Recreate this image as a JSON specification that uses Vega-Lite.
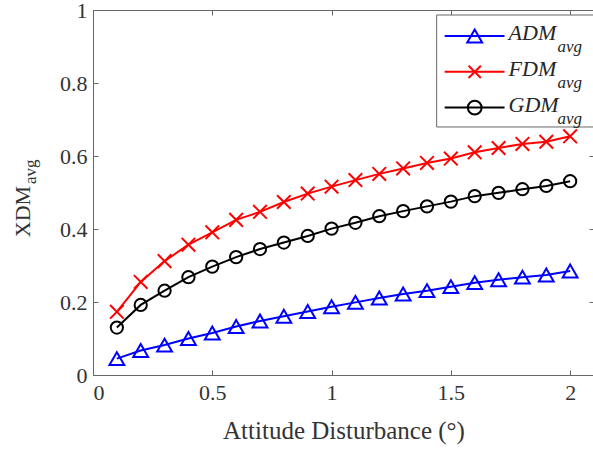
{
  "$schema": "https://vega.github.io/schema/vega-lite/v6.json",
  "width": 501,
  "height": 365,
  "autosize": "none",
  "padding": {"left": 93, "top": 10, "right": 0, "bottom": 75},
  "background": "white",
  "config": {
    "view": {"stroke": "#666666", "strokeWidth": 1},
    "font": "Liberation Serif",
    "axis": {
      "grid": false,
      "labelFont": "Liberation Serif",
      "titleFont": "Liberation Serif",
      "labelFontSize": 22,
      "labelColor": "#333333",
      "tickColor": "#666666",
      "domain": false,
      "titleFontWeight": "normal",
      "titleColor": "#333333",
      "tickSize": -5
    }
  },
  "datasets": {
    "curves": [
      {"x": 0.1, "ADM": 0.045, "FDM": 0.173, "GDM": 0.130},
      {"x": 0.2, "ADM": 0.067, "FDM": 0.255, "GDM": 0.192},
      {"x": 0.3, "ADM": 0.082, "FDM": 0.312, "GDM": 0.231},
      {"x": 0.4, "ADM": 0.100, "FDM": 0.357, "GDM": 0.268},
      {"x": 0.5, "ADM": 0.115, "FDM": 0.391, "GDM": 0.297},
      {"x": 0.6, "ADM": 0.133, "FDM": 0.425, "GDM": 0.323},
      {"x": 0.7, "ADM": 0.148, "FDM": 0.447, "GDM": 0.345},
      {"x": 0.8, "ADM": 0.161, "FDM": 0.474, "GDM": 0.363},
      {"x": 0.9, "ADM": 0.174, "FDM": 0.497, "GDM": 0.381},
      {"x": 1.0, "ADM": 0.187, "FDM": 0.516, "GDM": 0.401},
      {"x": 1.1, "ADM": 0.199, "FDM": 0.534, "GDM": 0.417},
      {"x": 1.2, "ADM": 0.211, "FDM": 0.551, "GDM": 0.435},
      {"x": 1.3, "ADM": 0.222, "FDM": 0.566, "GDM": 0.449},
      {"x": 1.4, "ADM": 0.231, "FDM": 0.581, "GDM": 0.462},
      {"x": 1.5, "ADM": 0.242, "FDM": 0.593, "GDM": 0.475},
      {"x": 1.6, "ADM": 0.253, "FDM": 0.610, "GDM": 0.490},
      {"x": 1.7, "ADM": 0.261, "FDM": 0.622, "GDM": 0.499},
      {"x": 1.8, "ADM": 0.268, "FDM": 0.633, "GDM": 0.509},
      {"x": 1.9, "ADM": 0.274, "FDM": 0.639, "GDM": 0.518},
      {"x": 2.0, "ADM": 0.285, "FDM": 0.654, "GDM": 0.531}
    ]
  },
  "resolve": {"axis": {"x": "independent", "y": "independent"}},
  "layer": [
    {
      "data": {"name": "curves"},
      "transform": [{"fold": ["ADM", "FDM", "GDM"], "as": ["series", "value"]}],
      "mark": {"type": "line", "strokeWidth": 2},
      "encoding": {
        "x": {
          "field": "x", "type": "quantitative",
          "scale": {"domain": [0, 2.1], "nice": false, "zero": false},
          "axis": {
            "orient": "bottom", "values": [0, 0.5, 1, 1.5, 2], "format": "~g",
            "title": "Attitude Disturbance (°)", "titleFontSize": 25,
            "titleY": 63, "titleBaseline": "alphabetic", "labelPadding": 12
          }
        },
        "y": {
          "field": "value", "type": "quantitative",
          "scale": {"domain": [0, 1], "nice": false},
          "axis": {
            "orient": "left", "values": [0, 0.2, 0.4, 0.6, 0.8, 1], "format": "~g",
            "title": "XDM", "titleFontSize": 22, "titleX": -64, "titleY": 201,
            "titleBaseline": "alphabetic", "titleAlign": "center", "titleAngle": 270,
            "labelPadding": 11
          }
        },
        "color": {
          "field": "series", "type": "nominal",
          "scale": {"domain": ["ADM", "FDM", "GDM"], "range": ["#0000ff", "#ff0000", "#000000"]},
          "legend": null
        }
      }
    },
    {
      "data": {"name": "curves"},
      "transform": [{"fold": ["ADM", "FDM", "GDM"], "as": ["series", "value"]}],
      "mark": {"type": "point", "filled": false, "strokeWidth": 2, "opacity": 1},
      "encoding": {
        "x": {
          "field": "x", "type": "quantitative",
          "axis": {"orient": "top", "values": [0, 0.5, 1, 1.5, 2], "labels": false, "title": null}
        },
        "y": {
          "field": "value", "type": "quantitative",
          "axis": {"orient": "right", "values": [0, 0.2, 0.4, 0.6, 0.8, 1], "labels": false, "title": null}
        },
        "color": {"field": "series", "type": "nominal", "legend": null},
        "shape": {
          "field": "series", "type": "nominal",
          "scale": {"domain": ["ADM", "FDM", "GDM"], "range": ["triangle-up", "M-1,-1L1,1M-1,1L1,-1", "circle"]},
          "legend": null
        },
        "size": {
          "field": "series", "type": "nominal",
          "scale": {"domain": ["ADM", "FDM", "GDM"], "range": [220, 150, 190]},
          "legend": null
        }
      }
    },
    {
      "data": {"values": [{}]},
      "mark": {"type": "rect", "fill": "white", "stroke": "#666666", "strokeWidth": 1},
      "encoding": {
        "x": {"datum": 1.4405, "type": "quantitative", "axis": null},
        "x2": {"datum": 2.1},
        "y": {"datum": 0.6795, "type": "quantitative", "axis": null},
        "y2": {"datum": 0.9863}
      }
    },
    {
      "data": {"values": [{}]},
      "encoding": {"y": {"datum": 0.9288, "type": "quantitative", "axis": null}},
      "layer": [
        {"mark": {"type": "rule", "color": "#0000ff", "strokeWidth": 2}, "encoding": {"x": {"datum": 1.474, "type": "quantitative", "axis": null}, "x2": {"datum": 1.725}}},
        {"mark": {"type": "point", "shape": "triangle-up", "filled": false, "color": "#0000ff", "strokeWidth": 2, "size": 220, "opacity": 1}, "encoding": {"x": {"datum": 1.6, "type": "quantitative", "axis": null}}},
        {"mark": {"type": "text", "text": "ADM", "font": "Liberation Serif", "fontStyle": "italic", "fontSize": 22, "align": "left", "baseline": "alphabetic", "dy": 4, "color": "#262626"}, "encoding": {"x": {"datum": 1.742, "type": "quantitative", "axis": null}}},
        {"mark": {"type": "text", "text": "avg", "font": "Liberation Serif", "fontStyle": "italic", "fontSize": 17, "align": "left", "baseline": "alphabetic", "dy": 16, "color": "#262626"}, "encoding": {"x": {"datum": 1.947, "type": "quantitative", "axis": null}}}
      ]
    },
    {
      "data": {"values": [{}]},
      "encoding": {"y": {"datum": 0.8307, "type": "quantitative", "axis": null}},
      "layer": [
        {"mark": {"type": "rule", "color": "#ff0000", "strokeWidth": 2}, "encoding": {"x": {"datum": 1.474, "type": "quantitative", "axis": null}, "x2": {"datum": 1.725}}},
        {"mark": {"type": "point", "shape": "M-1,-1L1,1M-1,1L1,-1", "filled": false, "color": "#ff0000", "strokeWidth": 2, "size": 150, "opacity": 1}, "encoding": {"x": {"datum": 1.6, "type": "quantitative", "axis": null}}},
        {"mark": {"type": "text", "text": "FDM", "font": "Liberation Serif", "fontStyle": "italic", "fontSize": 22, "align": "left", "baseline": "alphabetic", "dy": 4, "color": "#262626"}, "encoding": {"x": {"datum": 1.742, "type": "quantitative", "axis": null}}},
        {"mark": {"type": "text", "text": "avg", "font": "Liberation Serif", "fontStyle": "italic", "fontSize": 17, "align": "left", "baseline": "alphabetic", "dy": 16, "color": "#262626"}, "encoding": {"x": {"datum": 1.947, "type": "quantitative", "axis": null}}}
      ]
    },
    {
      "data": {"values": [{}]},
      "encoding": {"y": {"datum": 0.7326, "type": "quantitative", "axis": null}},
      "layer": [
        {"mark": {"type": "rule", "color": "#000000", "strokeWidth": 2}, "encoding": {"x": {"datum": 1.474, "type": "quantitative", "axis": null}, "x2": {"datum": 1.725}}},
        {"mark": {"type": "point", "shape": "circle", "filled": false, "color": "#000000", "strokeWidth": 2, "size": 190, "opacity": 1}, "encoding": {"x": {"datum": 1.6, "type": "quantitative", "axis": null}}},
        {"mark": {"type": "text", "text": "GDM", "font": "Liberation Serif", "fontStyle": "italic", "fontSize": 22, "align": "left", "baseline": "alphabetic", "dy": 4, "color": "#262626"}, "encoding": {"x": {"datum": 1.742, "type": "quantitative", "axis": null}}},
        {"mark": {"type": "text", "text": "avg", "font": "Liberation Serif", "fontStyle": "italic", "fontSize": 17, "align": "left", "baseline": "alphabetic", "dy": 16, "color": "#262626"}, "encoding": {"x": {"datum": 1.947, "type": "quantitative", "axis": null}}}
      ]
    },
    {
      "data": {"values": [{}]},
      "mark": {"type": "text", "text": "avg", "font": "Liberation Serif", "fontSize": 17, "angle": 270, "align": "left", "baseline": "alphabetic", "color": "#333333"},
      "encoding": {
        "x": {"datum": -0.2387, "type": "quantitative", "axis": null},
        "y": {"datum": 0.5233, "type": "quantitative", "axis": null}
      }
    }
  ]
}
